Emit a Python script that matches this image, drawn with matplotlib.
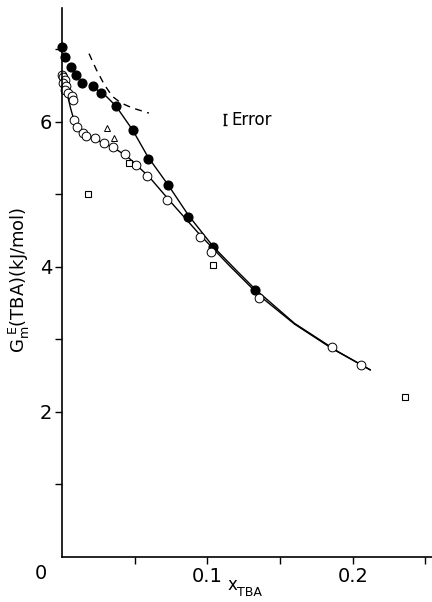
import numpy as np
import matplotlib
matplotlib.use("Agg")
import matplotlib.pyplot as plt

# filled circles
x_filled = [0.0, 0.002, 0.006, 0.0095, 0.014, 0.021, 0.027, 0.037, 0.0485, 0.059, 0.073, 0.087, 0.104, 0.133]
g_filled = [7.03, 6.89, 6.75, 6.65, 6.53, 6.49, 6.40, 6.22, 5.89, 5.49, 5.13, 4.69, 4.28, 3.68]

# open circles
x_open = [0.0, 0.001, 0.002, 0.0005, 0.003, 0.002, 0.0043, 0.0066, 0.0073, 0.008, 0.0104, 0.0143,
          0.0168, 0.0224, 0.0286, 0.035, 0.043, 0.051, 0.0587, 0.0723, 0.095, 0.1027, 0.1358, 0.1856, 0.2056]
g_open = [6.65, 6.62, 6.58, 6.53, 6.49, 6.44, 6.40, 6.35, 6.30, 6.02, 5.93, 5.85,
          5.80, 5.77, 5.71, 5.65, 5.56, 5.41, 5.25, 4.92, 4.41, 4.21, 3.57, 2.89, 2.65]

# triangles and squares
x_tri = [0.031, 0.036]
g_tri = [5.92, 5.77]
x_sq = [0.018, 0.046, 0.104, 0.236]
g_sq = [5.01, 5.43, 4.03, 2.20]

# smooth curves as drawn
x_curve_filled = [0.022, 0.03, 0.037, 0.0485, 0.059, 0.073, 0.087, 0.104, 0.12, 0.133, 0.16, 0.19, 0.212]
g_curve_filled = [6.47, 6.36, 6.22, 5.89, 5.52, 5.13, 4.71, 4.28, 3.95, 3.69, 3.22, 2.83, 2.58]
x_curve_open = [0.004, 0.006, 0.008, 0.011, 0.017, 0.025, 0.035, 0.045, 0.06, 0.075, 0.095, 0.115,
                0.136, 0.16, 0.186, 0.212]
g_curve_open = [6.35, 6.18, 6.04, 5.93, 5.82, 5.74, 5.65, 5.52, 5.24, 4.89, 4.44, 4.02,
                3.60, 3.21, 2.87, 2.58]
x_dash = [0.0186, 0.0236, 0.0292, 0.0347, 0.0406, 0.0485, 0.0598]
g_dash = [6.94, 6.72, 6.51, 6.35, 6.26, 6.19, 6.12]

fig = plt.figure(figsize=(4.32, 6.02), dpi=100)
ax = fig.add_axes([0.1435, 0.0748, 0.8565, 0.912])

ax.plot(x_curve_filled, g_curve_filled, color='black', lw=1.0)
ax.plot(x_curve_open, g_curve_open, color='black', lw=1.0)
ax.plot(x_dash, g_dash, color='black', lw=1.0, ls=(0, (5, 4)))

ax.plot(x_filled, g_filled, 'o', ms=6.3, mfc='black', mec='black', clip_on=False)
ax.plot(x_open, g_open, 'o', ms=6.3, mfc='white', mec='black', mew=0.7, clip_on=False)
ax.plot(x_tri, g_tri, '^', ms=4.5, mfc='white', mec='black', mew=0.7)
ax.plot(x_sq, g_sq, 's', ms=4.3, mfc='white', mec='black', mew=0.8)

# error marker
ax.errorbar([0.112], [6.03], yerr=[0.08], fmt='none', ecolor='black', elinewidth=1.2, capsize=1.5)
ax.text(0.1165, 6.03, 'Error', fontsize=12, va='center', ha='left')

ax.set_xlim(0, 0.2545)
ax.set_ylim(0, 7.57)
ax.spines['top'].set_visible(False)
ax.spines['right'].set_visible(False)
ax.spines['left'].set_linewidth(1.2)
ax.spines['bottom'].set_linewidth(1.2)

ax.set_yticks([1, 2, 3, 4, 5, 6, 7])
ax.set_yticklabels(['', '2', '', '4', '', '6', ''])
ax.set_xticks([0.05, 0.1, 0.15, 0.2, 0.25])
ax.set_xticklabels(['', '0.1', '', '0.2', ''])
ax.tick_params(axis='both', direction='out', length=5, width=1.0, labelsize=14, pad=2)
ax.text(-0.01, -0.1, '0', fontsize=14, ha='right', va='top')

ax.set_ylabel(r'$\mathregular{G_m^{\ E}}$(TBA)(kJ/mol)', fontsize=13, labelpad=2)
ax.yaxis.set_label_coords(-0.08, 0.505)
ax.text(0.114, -0.38, 'x', fontsize=12, ha='left', va='center')
ax.text(0.1205, -0.49, 'TBA', fontsize=9, ha='left', va='center')

fig.savefig('out.png', dpi=100)
